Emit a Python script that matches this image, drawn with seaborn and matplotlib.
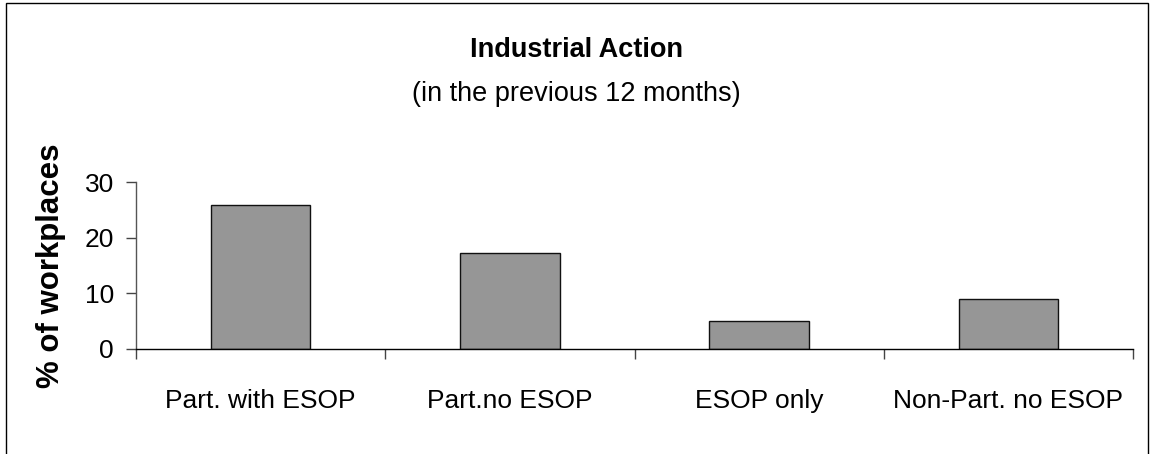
import matplotlib
matplotlib.use("Agg")
import matplotlib.pyplot as plt
from matplotlib.patches import Rectangle
import seaborn as sns
import pandas as pd

categories = ["Part. with ESOP", "Part.no ESOP", "ESOP only", "Non-Part. no ESOP"]
values = [25.8, 17.3, 5.0, 9.0]
yticks = [0, 10, 20, 30]

sns.set_theme(style="white")
plt.rcParams['font.family'] = ['Liberation Sans', 'DejaVu Sans']

df = pd.DataFrame({"category": categories, "value": values})

fig = plt.figure(figsize=(11.52, 4.54), dpi=100)
ax = fig.add_axes([136/1152, 1 - 349/454, (1133 - 136)/1152, (349 - 182)/454])

sns.barplot(data=df, x="category", y="value", ax=ax, color="#969696",
            saturation=1, width=0.4, edgecolor="#111111", linewidth=1)

ax.set_xlim(-0.5, len(categories) - 0.5)
ax.set_ylim(0, 30)
ax.set_yticks(yticks)
ax.set_yticklabels([str(t) for t in yticks], fontsize=19, color="black")
ax.set_xticks(range(len(categories)))
ax.set_xticklabels(categories, fontsize=19, color="black")
ax.set_xticks([i - 0.5 for i in range(len(categories) + 1)], minor=True)
ax.tick_params(axis='x', which='major', length=0, pad=29)
ax.tick_params(axis='x', which='minor', length=7, width=1, color="#444444", direction='out', bottom=True)
ax.tick_params(axis='y', length=7, width=1, color="#444444", direction='out', left=True, pad=9)

for s in ["top", "right"]:
    ax.spines[s].set_visible(False)
ax.spines["left"].set_color("#555555")
ax.spines["bottom"].set_color("black")
ax.spines["left"].set_linewidth(1)
ax.spines["bottom"].set_linewidth(1)

ax.set_xlabel("")
ax.set_ylabel("% of workplaces", fontsize=22.5, fontweight="bold", color="black")
ax.yaxis.set_label_coords((66 - 136)/997, 0.5)

fig.text(0.5, 1 - 57/454, "Industrial Action", ha="center", va="baseline",
         fontsize=19.5, fontweight="bold", color="black")
fig.text(0.5, 1 - 101/454, "(in the previous 12 months)", ha="center", va="baseline",
         fontsize=19.5, color="black")

fig.patches.append(Rectangle((6/1152, -0.1), (1148 - 6)/1152, 1.1 - 3/454,
                             transform=fig.transFigure, fill=False,
                             edgecolor="black", linewidth=1))

fig.savefig("out.png", dpi=100)
